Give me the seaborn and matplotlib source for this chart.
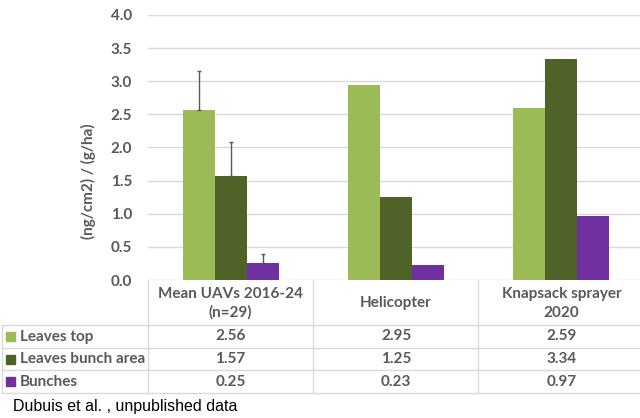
import pandas as pd
import seaborn as sns
import matplotlib.pyplot as plt
from matplotlib.patches import Rectangle

methods = ['Mean UAVs 2016-24\n(n=29)', 'Helicopter', 'Knapsack sprayer\n2020']
series = ['Leaves top', 'Leaves bunch area', 'Bunches']
leaves_top = [2.56, 2.95, 2.59]
leaves_bunch_area = [1.57, 1.25, 3.34]
bunches = [0.25, 0.23, 0.97]
uav_err_up = [0.60, 0.51, 0.14]  # only the UAV mean has (upper) error bars
yticks = [0.0, 0.5, 1.0, 1.5, 2.0, 2.5, 3.0, 3.5, 4.0]
colors = ['#9BBB59', '#4F6228', '#7030A0']
grey_txt = '#595959'
grid_col = '#D9D9D9'

df = pd.DataFrame({
    'method': methods * 3,
    'series': [s for s in series for _ in methods],
    'value': leaves_top + leaves_bunch_area + bunches,
})

sns.set_theme(style='white')
plt.rcParams['font.family'] = ['Lato', 'DejaVu Sans']
plt.rcParams['font.weight'] = 'bold'

W, H = 640, 418
fs = 11
fig = plt.figure(figsize=(W / 100, H / 100), dpi=100)

# overlay in pixel coords for the data table
tab = fig.add_axes([0, 0, 1, 1])
tab.set_xlim(0, W)
tab.set_ylim(H, 0)
tab.axis('off')

ax = fig.add_axes([148 / W, 138 / H, 496 / W, 265 / H])
sns.barplot(data=df, x='method', y='value', hue='series', palette=colors,
            saturation=1, width=0.58, errorbar=None, linewidth=0,
            legend=False, ax=ax)
ax.set_xlim(-0.5, 2.5)
ax.set_ylim(0, 4)
ax.set_yticks(yticks)
ax.set_yticklabels([f'{t:.1f}' for t in yticks])
ax.tick_params(axis='y', length=0, pad=11.5, labelcolor=grey_txt, labelsize=fs)
ax.set_xticks([])
ax.set_xlabel('')
ax.set_ylabel('')
ax.yaxis.grid(True, color=grid_col, lw=1)
ax.set_axisbelow(True)
for sp in ax.spines.values():
    sp.set_visible(False)
ax.patch.set_alpha(0)

# error bars on the UAV group
bar_groups = list(ax.containers)
for i, cont in enumerate(bar_groups):
    bar = cont[0]
    ax.errorbar(bar.get_x() + bar.get_width() / 2, bar.get_height(),
                yerr=[[0], [uav_err_up[i]]], fmt='none', ecolor='#595959',
                elinewidth=1, capsize=1.5, capthick=1)

fig.text(88 / W, 1 - 181 / H, '(ng/cm2) / (g/ha)', rotation=90, ha='center',
         va='center', color=grey_txt, fontsize=fs)

# data table below the plot
col_x = [ax.transData.transform((i, 0))[0] for i in range(len(methods))]
edges = [148, 313, 478, 645]
rows_y = [325, 348, 370, 393]
for y in rows_y:
    tab.plot([2, W], [y, y], color=grid_col, lw=1)
tab.plot([2, 2], [rows_y[0], rows_y[-1]], color=grid_col, lw=1)
for x in edges[:-1]:
    tab.plot([x, x], [280, rows_y[-1]], color=grid_col, lw=1)

for x, m in zip(col_x, methods):
    tab.text(x, 303.5, m, ha='center', va='center', color=grey_txt,
             fontsize=fs, linespacing=1.4)

table_rows = [leaves_top, leaves_bunch_area, bunches]
for r, (name, vals, c) in enumerate(zip(series, table_rows, colors)):
    yc = (rows_y[r] + rows_y[r + 1]) / 2
    tab.add_patch(Rectangle((6, yc - 4.5), 9, 9, color=c))
    tab.text(20, yc, name, ha='left', va='center', color=grey_txt, fontsize=fs)
    for x, v in zip(col_x, vals):
        tab.text(x, yc, f'{v:.2f}', ha='center', va='center', color=grey_txt,
                 fontsize=fs)

fig.text(13 / W, 1 - 407 / H, 'Dubuis et al. , unpublished data', ha='left',
         va='center', color='black', fontsize=11.5, fontweight='normal',
         family=['Liberation Sans', 'DejaVu Sans'])

fig.savefig('out.png', dpi=100)
